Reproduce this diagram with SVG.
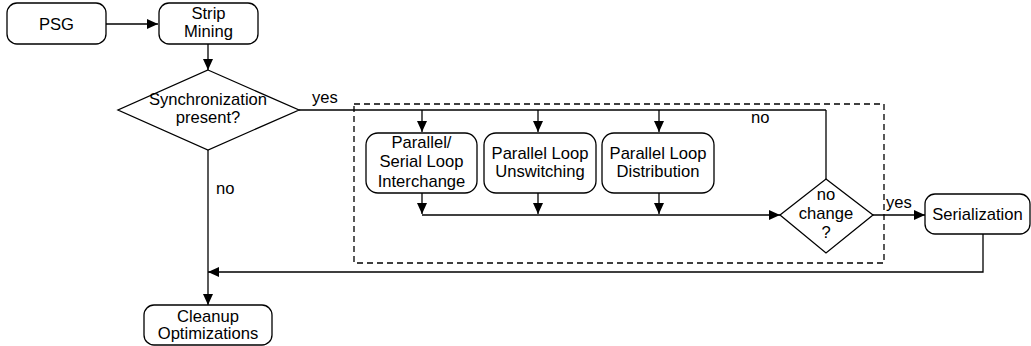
<svg xmlns="http://www.w3.org/2000/svg" width="1031" height="346" viewBox="0 0 1031 346">
<style>
  .box { fill: #fff; stroke: #000; stroke-width: 1.3; }
  .dia { fill: #fff; stroke: #000; stroke-width: 1.3; }
  .t { font-family: "Liberation Sans", Arial, sans-serif; font-size: 16.6px; fill: #000; text-anchor: middle; }
  .lbl { font-family: "Liberation Sans", Arial, sans-serif; font-size: 16.6px; fill: #000; }
  .c { fill: none; stroke: #000; stroke-width: 1.3; }
  .a { marker-end: url(#arr); }
</style>
<defs>
  <marker id="arr" markerUnits="userSpaceOnUse" markerWidth="11" markerHeight="10" refX="11" refY="5" orient="auto">
    <path d="M0,0 L11,5 L0,10 z" fill="#000"/>
  </marker>
</defs>
<rect x="0" y="0" width="1031" height="346" fill="#fff"/>
<rect x="354" y="104" width="530" height="159" fill="none" stroke="#000" stroke-width="1.3" stroke-dasharray="6,4"/>
<g id="connectors">
  <path class="c a" d="M106,24 H158"/>
  <path class="c a" d="M208,44 V70"/>
  <path class="c a" d="M208,150 V305"/>
  <path class="c" d="M299,110 H826"/>
  <path class="c" d="M826,179 V110"/>
  <path class="c a" d="M422,110 V132"/>
  <path class="c a" d="M538,110 V132"/>
  <path class="c a" d="M659,110 V132"/>
  <path class="c a" d="M422,193 V214"/>
  <path class="c a" d="M538,193 V214"/>
  <path class="c a" d="M659,193 V214"/>
  <path class="c a" d="M422,215 H780"/>
  <path class="c a" d="M873,215 H925"/>
  <path class="c a" d="M983,234 V272 H208"/>
  <text class="lbl" x="312" y="103">yes</text>
  <text class="lbl" x="216" y="194">no</text>
  <text class="lbl" x="751" y="123">no</text>
  <text class="lbl" x="886" y="208">yes</text>
</g>
<g id="psg">
  <rect class="box" x="7" y="3" width="99" height="41" rx="10"/>
  <text class="t" x="56.5" y="30">PSG</text>
</g>
<g id="strip">
  <rect class="box" x="159" y="3" width="99" height="41" rx="10"/>
  <text class="t" x="208.5" y="19">Strip</text>
  <text class="t" x="208.5" y="37">Mining</text>
</g>
<g id="sync">
  <polygon class="dia" points="208,70 299,110 208,150 118,110"/>
  <text class="t" x="208" y="105">Synchronization</text>
  <text class="t" x="208" y="123">present?</text>
</g>
<g id="interchange">
  <rect class="box" x="366" y="133" width="111" height="60" rx="12"/>
  <text class="t" x="421.5" y="148">Parallel/</text>
  <text class="t" x="421.5" y="167">Serial Loop</text>
  <text class="t" x="421.5" y="187">Interchange</text>
</g>
<g id="unswitching">
  <rect class="box" x="484" y="133" width="112" height="60" rx="12"/>
  <text class="t" x="540" y="159">Parallel Loop</text>
  <text class="t" x="540" y="177">Unswitching</text>
</g>
<g id="distribution">
  <rect class="box" x="602" y="133" width="112" height="60" rx="12"/>
  <text class="t" x="658" y="159">Parallel Loop</text>
  <text class="t" x="658" y="177">Distribution</text>
</g>
<g id="nochange">
  <polygon class="dia" points="826,179 873,215 826,253 780,215"/>
  <text class="t" x="826" y="200">no</text>
  <text class="t" x="826" y="219">change</text>
  <text class="t" x="826" y="238">?</text>
</g>
<g id="serialization">
  <rect class="box" x="925" y="194" width="105" height="40" rx="10"/>
  <text class="t" x="977.5" y="220">Serialization</text>
</g>
<g id="cleanup">
  <rect class="box" x="144" y="305" width="128" height="40" rx="10"/>
  <text class="t" x="208" y="322">Cleanup</text>
  <text class="t" x="208" y="339">Optimizations</text>
</g>
</svg>
